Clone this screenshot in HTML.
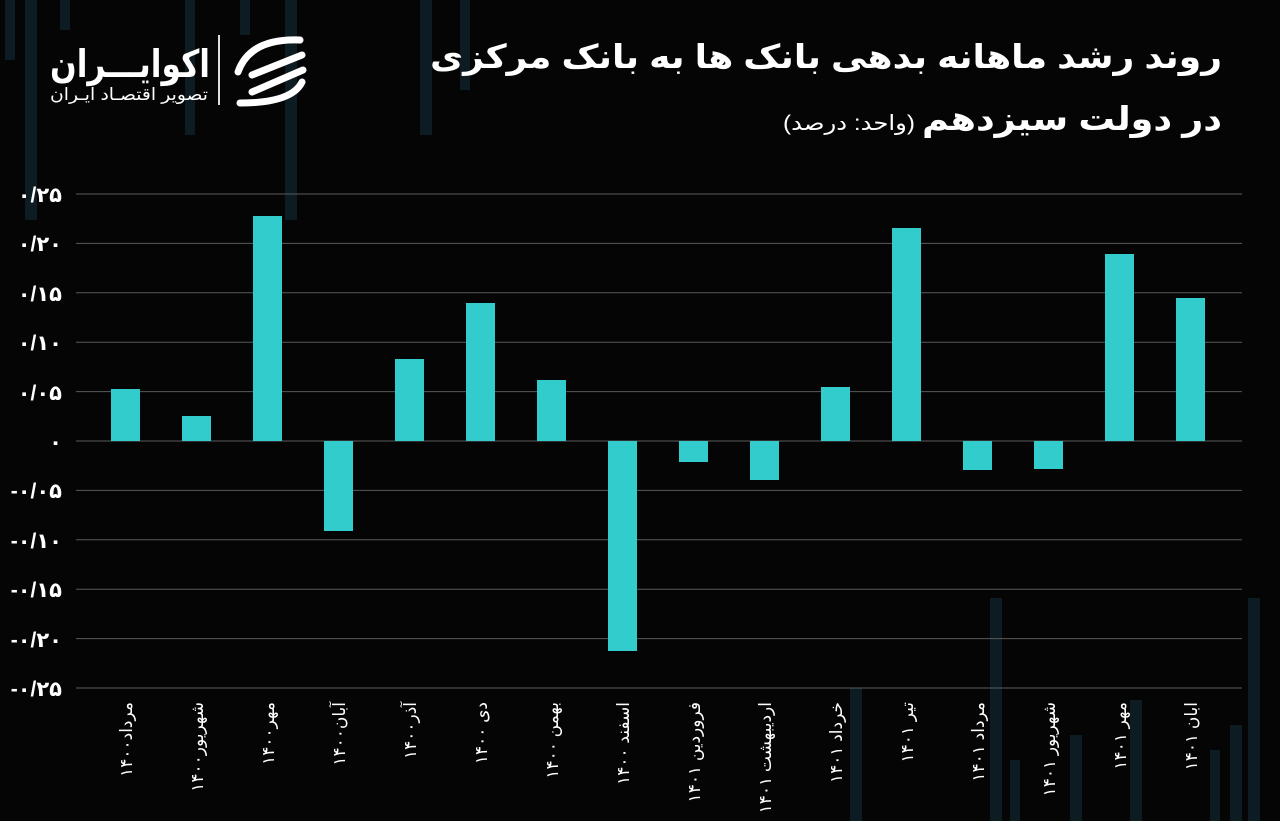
<!DOCTYPE html>
<html><head><meta charset="utf-8"><style>
html,body{margin:0;padding:0;background:#050505;}
svg{display:block}
text{font-family:"Liberation Sans","DejaVu Sans","Noto Sans CJK SC",sans-serif;fill:#fff}
</style></head><body>
<svg width="1280" height="821" viewBox="0 0 1280 821" xmlns="http://www.w3.org/2000/svg">
<rect width="1280" height="821" fill="#050505"/>
<g fill="#0d1c22">
<rect x="5" y="0" width="10" height="60"/><rect x="25" y="0" width="12" height="220"/><rect x="60" y="0" width="10" height="30"/><rect x="185" y="0" width="10" height="135"/><rect x="240" y="0" width="10" height="35"/><rect x="285" y="0" width="12" height="220"/><rect x="420" y="0" width="12" height="135"/><rect x="460" y="0" width="10" height="90"/>
<rect x="990" y="598" width="12" height="223"/><rect x="850" y="688" width="12" height="133"/><rect x="1070" y="735" width="12" height="86"/><rect x="1130" y="700" width="12" height="121"/><rect x="1230" y="725" width="12" height="96"/><rect x="1248" y="598" width="12" height="223"/><rect x="1210" y="750" width="10" height="71"/><rect x="1010" y="760" width="10" height="61"/>
</g>
<text x="1222" y="68" font-size="33" font-weight="bold" text-anchor="end" textLength="792" lengthAdjust="spacingAndGlyphs">روند رشد ماهانه بدهی بانک ها به بانک مرکزی</text>
<text x="1222" y="130" font-size="33" font-weight="bold" text-anchor="end" textLength="300" lengthAdjust="spacingAndGlyphs">در دولت سیزدهم</text>
<text x="915" y="130" font-size="21" text-anchor="end" textLength="132" lengthAdjust="spacingAndGlyphs">(واحد: درصد)</text>
<text x="210" y="77" font-size="38" font-weight="bold" text-anchor="end" textLength="160" lengthAdjust="spacingAndGlyphs">اکوایـــران</text>
<text x="208" y="100" font-size="17" text-anchor="end" textLength="158" lengthAdjust="spacingAndGlyphs">تصویر اقتصـاد ایـران</text>
<rect x="218" y="35" width="2" height="70" fill="#ddd"/>
<g fill="none" stroke="#fff" stroke-width="7" stroke-linecap="round">
<path d="M300 40 Q250 38 238 72"/><path d="M302 55 L252 75"/><path d="M303 70 L252 92"/><path d="M302 82 Q292 103 240 103"/>
</g>
<g stroke="#5a5a5a" stroke-width="1">
<line x1="76" y1="194" x2="1242" y2="194"/><line x1="76" y1="243.4" x2="1242" y2="243.4"/><line x1="76" y1="292.8" x2="1242" y2="292.8"/><line x1="76" y1="342.2" x2="1242" y2="342.2"/><line x1="76" y1="391.6" x2="1242" y2="391.6"/><line x1="76" y1="441" x2="1242" y2="441"/><line x1="76" y1="490.4" x2="1242" y2="490.4"/><line x1="76" y1="539.8" x2="1242" y2="539.8"/><line x1="76" y1="589.2" x2="1242" y2="589.2"/><line x1="76" y1="638.6" x2="1242" y2="638.6"/><line x1="76" y1="688" x2="1242" y2="688"/>
</g>
<g font-size="21" font-weight="bold" text-anchor="end">
<text x="62" y="202">۰/۲۵</text><text x="62" y="251">۰/۲۰</text><text x="62" y="301">۰/۱۵</text><text x="62" y="350">۰/۱۰</text><text x="62" y="400">۰/۰۵</text><text x="62" y="449">۰</text><text x="62" y="498">&#8206;-۰/۰۵</text><text x="62" y="548">&#8206;-۰/۱۰</text><text x="62" y="597">&#8206;-۰/۱۵</text><text x="62" y="647">&#8206;-۰/۲۰</text><text x="62" y="696">&#8206;-۰/۲۵</text>
</g>
<g fill="#33cccc">
<rect x="111" y="389" width="29" height="52"/>
<rect x="182" y="416" width="29" height="25"/>
<rect x="253" y="216" width="29" height="225"/>
<rect x="324" y="441" width="29" height="90"/>
<rect x="395" y="359" width="29" height="82"/>
<rect x="466" y="303" width="29" height="138"/>
<rect x="537" y="380" width="29" height="61"/>
<rect x="608" y="441" width="29" height="210"/>
<rect x="679" y="441" width="29" height="21"/>
<rect x="750" y="441" width="29" height="39"/>
<rect x="821" y="387" width="29" height="54"/>
<rect x="892" y="228" width="29" height="213"/>
<rect x="963" y="441" width="29" height="29"/>
<rect x="1034" y="441" width="29" height="28"/>
<rect x="1105" y="254" width="29" height="187"/>
<rect x="1176" y="298" width="29" height="143"/>
</g>
<g font-size="17" text-anchor="end">
<text transform="translate(132,702) rotate(-90)">مرداد۱۴۰۰</text>
<text transform="translate(203,702) rotate(-90)">شهریور۱۴۰۰</text>
<text transform="translate(274,702) rotate(-90)">مهر۱۴۰۰</text>
<text transform="translate(345,702) rotate(-90)">آبان۱۴۰۰</text>
<text transform="translate(416,702) rotate(-90)">آذر۱۴۰۰</text>
<text transform="translate(487,702) rotate(-90)">دی ۱۴۰۰</text>
<text transform="translate(558,702) rotate(-90)">بهمن ۱۴۰۰</text>
<text transform="translate(629,702) rotate(-90)">اسفند ۱۴۰۰</text>
<text transform="translate(700,702) rotate(-90)">فروردین ۱۴۰۱</text>
<text transform="translate(771,702) rotate(-90)">اردیبهشت ۱۴۰۱</text>
<text transform="translate(842,702) rotate(-90)">خرداد ۱۴۰۱</text>
<text transform="translate(913,702) rotate(-90)">تیر ۱۴۰۱</text>
<text transform="translate(984,702) rotate(-90)">مرداد ۱۴۰۱</text>
<text transform="translate(1055,702) rotate(-90)">شهریور ۱۴۰۱</text>
<text transform="translate(1126,702) rotate(-90)">مهر ۱۴۰۱</text>
<text transform="translate(1197,702) rotate(-90)">ابان ۱۴۰۱</text>
</g>
</svg>
</body></html>
